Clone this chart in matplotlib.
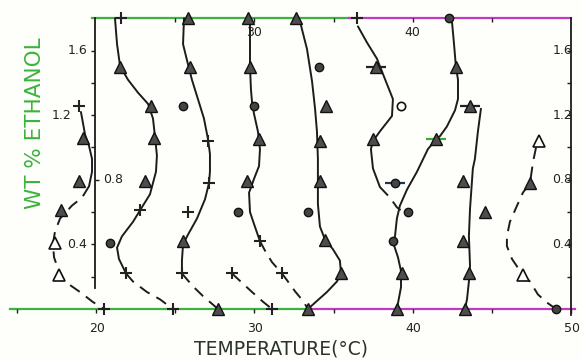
import matplotlib
matplotlib.use("Agg")
import matplotlib.pyplot as plt

# ---- data (temperature degC, wt % ethanol) ----
tri_T = [19.2, 18.9, 17.8, 21.5, 23.45, 23.65, 23.1, 25.8, 25.9, 25.5, 27.7,
         29.6, 29.7, 30.3, 29.5, 33.4, 32.6, 34.5, 34.15, 34.15, 34.45, 35.45,
         37.7, 37.5, 39.3, 39.0, 42.75, 43.6, 41.5, 43.15, 44.55, 43.15, 43.55,
         43.3, 47.4]
tri_w = [1.06, 0.79, 0.61, 1.5, 1.26, 1.06, 0.79, 1.8, 1.5, 0.42, 0.0,
         1.8, 1.5, 1.05, 0.79, 0.0, 1.8, 1.26, 1.04, 0.79, 0.43, 0.22,
         1.5, 1.05, 0.22, 0.0, 1.5, 1.26, 1.05, 0.79, 0.60, 0.42, 0.22,
         0.0, 0.78]

otri_T = [17.4, 17.65, 48.0, 46.95]
otri_w = [0.41, 0.21, 1.04, 0.21]

circ_T = [20.9, 25.5, 30.0, 28.95, 34.1, 33.4, 38.9, 39.7, 38.75, 42.3, 49.05]
circ_w = [0.41, 1.26, 1.26, 0.60, 1.5, 0.60, 0.78, 0.60, 0.42, 1.8, 0.0]

ocirc_T = [39.25]
ocirc_w = [1.26]

plus_T = [18.9, 20.5, 21.55, 22.8, 21.9, 24.85, 27.05, 27.1, 25.8, 25.4,
          30.35, 31.75, 28.6, 31.1, 36.5]
plus_w = [1.26, 0.0, 1.8, 0.61, 0.22, 0.0, 1.04, 0.78, 0.60, 0.22,
          0.42, 0.22, 0.22, 0.0, 1.8]

bar_T = [37.7, 43.6, 41.5, 38.9]
bar_w = [1.5, 1.26, 1.05, 0.78]
bar_c = ['#222222', '#222222', '#3aa83a', '#223355']

# hand-drawn boundary curves (solid, dashed)
curves_solid = [
    ([19.04, 19.30, 19.55, 19.74, 19.74, 19.55],
     [1.22, 1.08, 1.01, 0.93, 0.85, 0.76]),
    ([21.19, 21.32, 21.51, 22.01, 22.64, 23.28, 23.59, 23.72, 23.84, 23.78,
      23.40, 22.83, 22.33, 21.63, 21.32, 21.44, 21.89],
     [1.80, 1.64, 1.505, 1.42, 1.34, 1.27, 1.18, 1.065, 0.95, 0.85,
      0.71, 0.62, 0.54, 0.45, 0.38, 0.31, 0.22]),
    ([25.55, 25.49, 25.74, 26.05, 26.43, 26.81, 27.07, 27.19, 27.19, 27.13,
      26.88, 26.37, 25.80, 25.49, 25.42, 25.42],
     [1.80, 1.64, 1.54, 1.42, 1.30, 1.18, 1.05, 0.96, 0.85, 0.78,
      0.68, 0.56, 0.46, 0.40, 0.30, 0.22]),
    ([29.72, 29.72, 29.72, 29.78, 29.85, 29.97, 30.22, 30.35, 30.29, 29.97,
      29.66, 29.72, 30.03, 30.35],
     [1.80, 1.64, 1.50, 1.36, 1.28, 1.21, 1.10, 0.99, 0.885, 0.805,
      0.72, 0.60, 0.51, 0.42]),
    ([32.88, 33.32, 33.64, 33.83, 33.95, 34.01, 34.01, 34.01, 34.14, 34.46,
      34.96, 35.40, 35.47, 35.21, 34.58, 33.95, 33.38],
     [1.78, 1.61, 1.41, 1.24, 1.10, 0.93, 0.79, 0.65, 0.51, 0.43,
      0.37, 0.30, 0.22, 0.17, 0.105, 0.05, 0.0]),
    ([36.54, 37.11, 37.74, 38.12, 38.75, 38.69, 37.93, 37.49, 37.36, 37.49,
      37.93],
     [1.75, 1.65, 1.55, 1.455, 1.30, 1.195, 1.10, 1.04, 0.99, 0.87, 0.755]),
    ([42.48, 42.61, 42.73, 42.86, 42.86, 42.67, 42.16, 41.72, 41.47, 40.96,
      40.27, 39.64, 39.19, 39.0, 38.88, 38.75, 39.07, 39.26, 39.26, 39.0],
     [1.78, 1.64, 1.50, 1.42, 1.30, 1.23, 1.13, 1.07, 1.05, 0.99,
      0.85, 0.74, 0.64, 0.56, 0.45, 0.415, 0.32, 0.235, 0.135, 0.0]),
    ([44.31, 44.12, 43.93, 43.80, 43.62, 43.55, 43.62, 43.55, 43.43, 43.30],
     [1.24, 1.10, 0.93, 0.87, 0.62, 0.45, 0.27, 0.17, 0.06, 0.0]),
]
curves_dashed = [
    ([19.55, 19.11, 18.47, 17.72, 17.40, 17.27, 17.34, 17.59, 18.03, 18.98,
      19.80, 20.50],
     [0.76, 0.69, 0.64, 0.56, 0.48, 0.40, 0.32, 0.25, 0.17, 0.105, 0.043, 0.0]),
    ([21.89, 22.33, 23.21, 24.03, 24.85], [0.22, 0.17, 0.105, 0.06, 0.0]),
    ([25.42, 26.12, 26.75, 27.70], [0.22, 0.14, 0.08, 0.0]),
    ([30.35, 30.73, 31.11, 31.74, 32.12, 32.56, 33.07, 33.38],
     [0.42, 0.35, 0.29, 0.22, 0.17, 0.11, 0.05, 0.0]),
    ([28.58, 29.85, 30.54, 31.11], [0.22, 0.105, 0.045, 0.0]),
    ([37.93, 38.56, 39.0, 39.26], [0.755, 0.69, 0.63, 0.61]),
    ([47.79, 47.60, 47.41, 46.96, 46.59, 46.14, 45.95, 45.95, 46.27, 46.96,
      47.41, 47.91, 48.48, 49.05],
     [1.00, 0.91, 0.78, 0.72, 0.64, 0.54, 0.45, 0.39, 0.31, 0.21,
      0.17, 0.09, 0.04, 0.0]),
]

x_ticks = [15, 20, 25, 30, 35, 40, 45, 50]
x_labels = [20, 30, 40, 50]
top_ticks = [25, 30, 35, 40, 45]
top_labels = [30, 40]
w_ticks = [0.2, 0.4, 0.6, 0.8, 1.0, 1.2, 1.4, 1.6]

GREEN = '#3db33d'
MAG = '#c23ac2'
INK = '#1c1c1c'

fig = plt.figure(figsize=(5.82, 3.60), dpi=100, facecolor='#fefefb')
ax = fig.add_axes([0, 0, 1, 1])
ax.set_xlim(13.926, 50.695)
ax.set_ylim(-0.3158, 1.9133)
ax.axis('off')

# frame lines
ax.plot([14.55, 33.4], [0, 0], color=GREEN, lw=1.6)
ax.plot([33.4, 50.25], [0, 0], color=MAG, lw=1.6)
ax.plot([19.75, 36.0], [1.8, 1.8], color=GREEN, lw=1.6)
ax.plot([36.0, 50.0], [1.8, 1.8], color=MAG, lw=1.6)
ax.plot([19.95, 19.95], [0.13, 1.8], color=INK, lw=1.3)
ax.plot([50.0, 50.0], [-0.04, 1.8], color=INK, lw=1.3)

# tick marks
ax.plot(x_ticks, [0] * len(x_ticks), ls='none', marker=3, ms=3, mew=1, color=INK)
ax.plot(top_ticks, [1.8] * len(top_ticks), ls='none', marker=3, ms=3, mew=1, color=INK)
left_w = [w for w in w_ticks if w != 0.8]
ax.plot([19.95] * len(left_w), left_w, ls='none', marker=0, ms=3, mew=1, color=INK)
ax.plot([19.95], [0.8], ls='none', marker=1, ms=3, mew=1, color=INK)
ax.plot([50.0] * len(w_ticks), w_ticks, ls='none', marker=0, ms=3, mew=1, color=INK)

# tick labels
tk = dict(fontsize=9, color='#222222', ha='center', va='center')
for t in x_labels:
    ax.text(t + 0.05, -0.12, str(t), **tk)
for t in top_labels:
    ax.text(t - 0.05, 1.71, str(t), **tk)
ax.text(18.8, 1.6, '1.6', **tk)
ax.text(17.8, 1.2, '1.2', **tk)
ax.text(21.05, 0.8, '0.8', **tk)
ax.text(18.8, 0.4, '0.4', **tk)
for w in [0.4, 0.8, 1.2, 1.6]:
    ax.text(49.45, w, '%.1f' % w, **tk)

# curves
for T, w in curves_solid:
    ax.plot(T, w, color=INK, lw=1.4, solid_capstyle='round')
for T, w in curves_dashed:
    ax.plot(T, w, color=INK, lw=1.4, dashes=(6, 4))

# markers
for t, w, c in zip(bar_T, bar_w, bar_c):
    ax.plot([t], [w], ls='none', marker='_', ms=15, mew=1.6, color=c, zorder=4)
ax.plot(tri_T, tri_w, ls='none', marker='^', ms=8, mfc='#4d4d4d', mec='#111111',
        mew=1.0, zorder=5)
ax.plot(otri_T, otri_w, ls='none', marker='^', ms=8, mfc='white', mec='#111111',
        mew=1.2, zorder=5)
ax.plot(circ_T, circ_w, ls='none', marker='o', ms=6, mfc='#444444', mec='#111111',
        mew=1.0, zorder=5)
ax.plot(ocirc_T, ocirc_w, ls='none', marker='o', ms=6, mfc='white', mec='#111111',
        mew=1.2, zorder=5)
ax.plot(plus_T, plus_w, ls='none', marker='+', ms=8, mew=1.5, color='#222222',
        zorder=5)

# axis titles
ax.text(16.15, 1.15, 'WT % ETHANOL', rotation=90, fontsize=15.5, color=GREEN,
        ha='center', va='center')
ax.text(31.7, -0.25, 'TEMPERATURE(°C)', fontsize=13.5, color='#2b332b',
        ha='center', va='center')

fig.savefig('out.png', dpi=100, facecolor=fig.get_facecolor())
